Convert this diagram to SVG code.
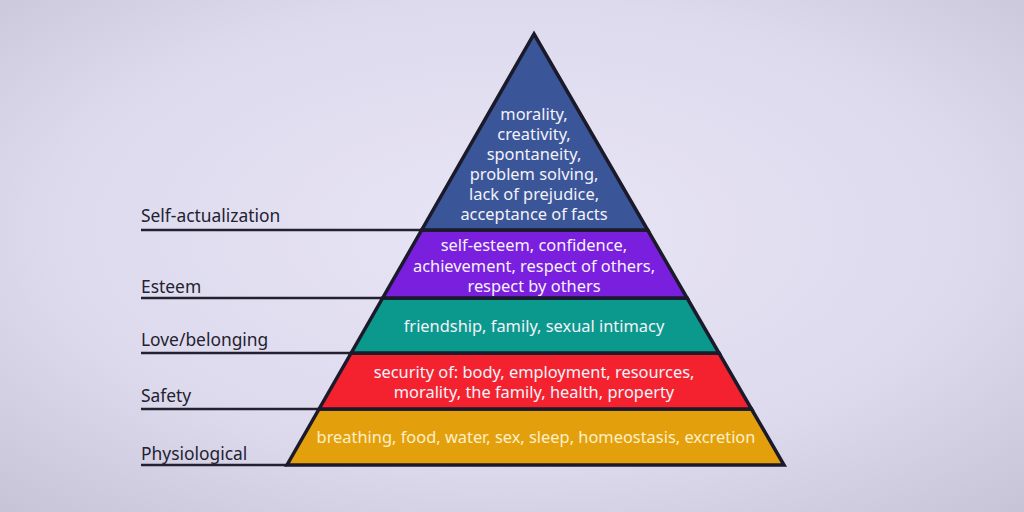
<svg xmlns="http://www.w3.org/2000/svg" width="1024" height="512" viewBox="0 0 1024 512">
  <defs>
    <radialGradient id="bg" cx="50%" cy="45%" r="75%">
      <stop offset="0" stop-color="#e8e5f5"/>
      <stop offset="0.6" stop-color="#dedaee"/>
      <stop offset="1" stop-color="#c6c3d6"/>
    </radialGradient>
    <style>
      .lvl { stroke: #1b1a2b; stroke-width: 3.5; stroke-linejoin: miter; }
      .in { font-family: "Noto Sans", "DejaVu Sans", sans-serif; font-size: 16.4px; fill: #f4f2fa; text-anchor: middle; }
      .lab { font-family: "Noto Sans", "DejaVu Sans", sans-serif; font-size: 17.4px; fill: #222230; }
      .ln { stroke: #22212f; stroke-width: 2.5; fill: none; }
    </style>
  </defs>
  <rect width="1024" height="512" fill="url(#bg)"/>

  <g id="connectors">
    <line class="ln" x1="141" y1="230" x2="422" y2="230"/>
    <line class="ln" x1="141" y1="298" x2="383" y2="298"/>
    <line class="ln" x1="141" y1="353" x2="351" y2="353"/>
    <line class="ln" x1="141" y1="409" x2="319" y2="409"/>
    <line class="ln" x1="141" y1="465" x2="287" y2="465"/>
  </g>

  <g id="level-physiological">
    <polygon class="lvl" fill="#e4a00c" points="319.1,409 751.5,409 784,465 287,465"/>
    <text class="in" x="536" y="443" style="fill:#fbf0c8">breathing, food, water, sex, sleep, homeostasis, excretion</text>
    <text class="lab" x="141" y="460">Physiological</text>
  </g>

  <g id="level-safety">
    <polygon class="lvl" fill="#f4222f" points="351.2,353 719,353 751.5,409 319.1,409"/>
    <text class="in" x="534" y="378">security of: body, employment, resources,</text>
    <text class="in" x="534" y="398">morality, the family, health, property</text>
    <text class="lab" x="141" y="402">Safety</text>
  </g>

  <g id="level-love">
    <polygon class="lvl" fill="#0b998d" points="382.7,298 687.1,298 719,353 351.2,353"/>
    <text class="in" x="534" y="332">friendship, family, sexual intimacy</text>
    <text class="lab" x="141" y="346">Love/belonging</text>
  </g>

  <g id="level-esteem">
    <polygon class="lvl" fill="#7b1fdf" points="421.7,230 647.7,230 687.1,298 382.7,298"/>
    <text class="in" x="534" y="251">self-esteem, confidence,</text>
    <text class="in" x="534" y="272">achievement, respect of others,</text>
    <text class="in" x="534" y="292">respect by others</text>
    <text class="lab" x="141" y="293">Esteem</text>
  </g>

  <g id="level-self-actualization">
    <polygon class="lvl" fill="#3a5699" points="534,34 647.7,230 421.7,230"/>
    <text class="in" x="534" y="120">morality,</text>
    <text class="in" x="534" y="140">creativity,</text>
    <text class="in" x="534" y="160">spontaneity,</text>
    <text class="in" x="534" y="180">problem solving,</text>
    <text class="in" x="534" y="200">lack of prejudice,</text>
    <text class="in" x="534" y="220">acceptance of facts</text>
    <text class="lab" x="141" y="222">Self-actualization</text>
  </g>
</svg>
